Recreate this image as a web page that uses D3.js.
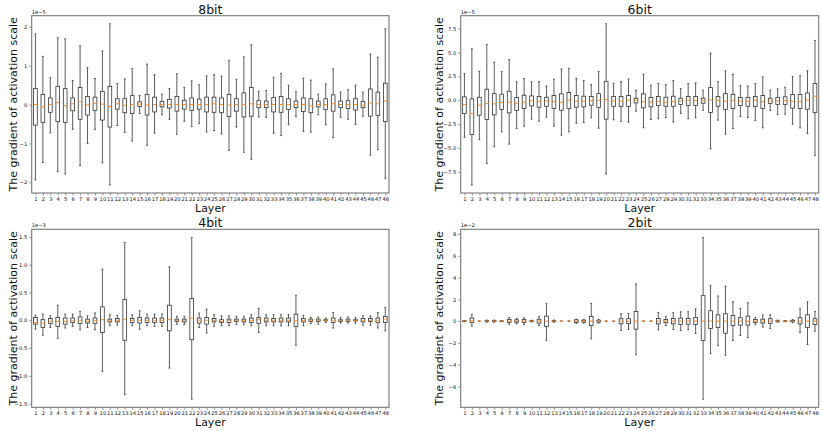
<!DOCTYPE html>
<html>
<head>
<meta charset="utf-8">
<script src="https://cdn.jsdelivr.net/npm/d3@7"></script>
<style>
  body { margin: 0; background: #fff; }
  svg text { font-family: "DejaVu Sans", sans-serif; fill: #111; }
</style>
</head>
<body>
<svg id="chart"></svg>
<script>
const layers = d3.range(1, 49);

// 8bit (x 1e-5)
const hi8 = [1.82,1.24,0.69,1.72,1.69,0.62,1.51,0.95,0.67,1.38,2.08,0.54,0.66,0.93,0.23,1.04,0.77,0.27,0.41,0.79,0.44,0.61,0.51,0.74,0.77,0.73,1.14,0.65,1.23,1.54,0.34,0.36,0.70,0.80,0.50,0.33,0.68,0.63,0.27,0.53,0.92,0.32,0.38,0.50,0.32,1.30,1.22,1.95];
const q3_8 = [0.41,0.26,0.17,0.47,0.41,0.17,0.44,0.21,0.19,0.34,0.47,0.15,0.15,0.23,0.07,0.26,0.19,0.08,0.13,0.21,0.11,0.17,0.14,0.19,0.19,0.17,0.26,0.15,0.30,0.44,0.10,0.09,0.18,0.21,0.15,0.09,0.17,0.15,0.09,0.15,0.25,0.09,0.10,0.15,0.08,0.40,0.32,0.55];
const med8 = [0,-0.06,0,0.05,-0.03,0.02,0.07,-0.01,0.03,0.01,-0.05,0.02,-0.02,0,0.01,-0.01,0,0,0,0,0,0,0,0,0.02,0,-0.01,0,0,0.02,0,0,0,0,0,0,0,-0.03,0,0,0.02,0,0,0,-0.02,0.04,0.02,0.09];
const q1_8 = [-0.53,-0.46,-0.20,-0.44,-0.46,-0.16,-0.38,-0.27,-0.15,-0.40,-0.58,-0.12,-0.21,-0.23,-0.05,-0.27,-0.19,-0.06,-0.09,-0.17,-0.12,-0.15,-0.12,-0.19,-0.20,-0.21,-0.31,-0.17,-0.32,-0.30,-0.08,-0.08,-0.19,-0.20,-0.13,-0.08,-0.18,-0.21,-0.06,-0.13,-0.17,-0.08,-0.10,-0.14,-0.08,-0.30,-0.28,-0.44];
const lo8 = [-1.94,-1.49,-0.73,-1.73,-1.79,-0.64,-1.57,-1.00,-0.64,-1.50,-2.07,-0.54,-0.72,-0.94,-0.23,-1.05,-0.74,-0.26,-0.38,-0.77,-0.43,-0.57,-0.49,-0.71,-0.67,-0.76,-1.18,-0.58,-1.23,-1.41,-0.32,-0.33,-0.74,-0.80,-0.52,-0.31,-0.69,-0.71,-0.26,-0.52,-0.85,-0.33,-0.38,-0.51,-0.30,-1.30,-1.16,-1.90];
const ticks8 = [-2, -1, 0, 1, 2];

// 6bit (x 1e-5)
const hi6 = [2.78,5.38,3.02,5.83,3.99,2.99,4.24,1.94,2.26,1.94,1.94,1.49,2.19,3.26,3.33,2.29,2.05,1.63,2.99,7.99,1.77,1.94,2.22,1.04,2.71,1.56,1.74,1.63,2.05,1.22,1.74,1.81,1.04,4.93,1.94,3.09,2.71,1.56,1.49,1.74,2.43,1.04,1.18,1.35,2.47,2.57,3.09,6.25];
const q3_6 = [0.35,0.14,0.31,1.15,0.69,0.63,0.94,0.28,0.52,0.45,0.38,0.31,0.49,0.66,0.80,0.49,0.42,0.38,0.69,1.98,0.38,0.38,0.49,0.21,0.66,0.28,0.38,0.31,0.42,0.21,0.38,0.38,0.21,1.32,0.38,0.69,0.59,0.28,0.28,0.38,0.49,0.21,0.28,0.35,0.59,0.59,0.76,1.74];
const med6 = [-0.45,-1.39,-0.52,-0.35,-0.38,-0.24,-0.21,-0.31,-0.21,-0.07,-0.14,-0.07,-0.14,-0.21,0,-0.10,-0.10,-0.03,0,0.07,-0.07,-0.10,0,0,-0.14,-0.21,-0.14,-0.21,-0.14,-0.07,0,-0.03,-0.07,0.03,-0.03,-0.10,-0.03,-0.10,-0.10,-0.03,-0.14,-0.07,-0.07,-0.03,-0.10,-0.14,0,0.42];
const q1_6 = [-1.39,-3.58,-1.56,-2.01,-1.53,-0.97,-1.32,-1.08,-0.87,-0.59,-0.73,-0.63,-0.87,-1.04,-0.87,-0.73,-0.69,-0.52,-0.76,-1.98,-0.63,-0.66,-0.66,-0.28,-0.80,-0.69,-0.56,-0.63,-0.63,-0.45,-0.56,-0.56,-0.31,-1.28,-0.63,-0.97,-0.87,-0.56,-0.63,-0.66,-0.87,-0.35,-0.45,-0.45,-0.83,-0.87,-0.94,-1.28];
const lo6 = [-3.89,-8.85,-4.10,-6.60,-4.86,-3.30,-4.58,-2.95,-2.71,-1.98,-2.19,-1.77,-2.71,-3.65,-3.30,-2.40,-2.33,-1.84,-2.92,-7.71,-2.05,-2.22,-2.29,-1.15,-2.88,-2.01,-1.94,-1.81,-2.29,-1.39,-1.94,-1.84,-1.04,-5.07,-2.08,-3.54,-2.95,-1.70,-1.81,-2.12,-2.88,-1.08,-1.49,-1.46,-2.50,-2.88,-3.47,-5.76];
const ticks6 = [-7.5, -5, -2.5, 0, 2.5, 5, 7.5];

// 4bit (x 1e-3)
const hi4 = [0.09,0.11,0.08,0.27,0.11,0.11,0.16,0.08,0.13,0.92,0.10,0.09,1.40,0.10,0.17,0.11,0.11,0.11,0.96,0.07,0.07,1.49,0.13,0.20,0.10,0.08,0.08,0.07,0.07,0.10,0.21,0.10,0.10,0.10,0.10,0.45,0.09,0.05,0.06,0.04,0.14,0.05,0.06,0.05,0.08,0.08,0.14,0.23];
const q3_4 = [0.05,0.01,0.03,0.05,0.04,0.04,0.06,0.02,0.04,0.24,0.02,0.03,0.37,0.03,0.05,0.04,0.04,0.04,0.27,0.02,0.02,0.39,0.04,0.05,0.03,0.01,0.02,0.02,0.02,0.04,0.05,0.04,0.03,0.04,0.04,0.11,0.03,0.02,0.02,0.01,0.04,0.01,0.02,0.01,0.03,0.03,0.04,0.07];
const med4 = [-0.04,-0.05,-0.02,-0.02,-0.02,-0.01,0,-0.02,-0.01,0.01,-0.01,0,0.02,0,0,0,0,0,0.01,0,0,0.04,0,0,0,-0.02,0,0,0,0,0.01,0,0,0,0,-0.01,0,0,0,0,0,0,0,0,0,0,0,0.02];
const q1_4 = [-0.07,-0.13,-0.06,-0.11,-0.07,-0.04,-0.06,-0.05,-0.06,-0.22,-0.03,-0.03,-0.36,-0.04,-0.05,-0.04,-0.04,-0.04,-0.19,-0.02,-0.03,-0.35,-0.05,-0.07,-0.03,-0.04,-0.04,-0.02,-0.03,-0.04,-0.06,-0.03,-0.03,-0.03,-0.03,-0.11,-0.03,-0.02,-0.02,-0.01,-0.04,-0.02,-0.02,-0.01,-0.03,-0.02,-0.04,-0.04];
const lo4 = [-0.16,-0.27,-0.13,-0.33,-0.14,-0.11,-0.17,-0.13,-0.17,-0.92,-0.10,-0.09,-1.34,-0.10,-0.16,-0.10,-0.11,-0.11,-0.86,-0.07,-0.08,-1.42,-0.13,-0.23,-0.11,-0.10,-0.10,-0.08,-0.08,-0.10,-0.22,-0.10,-0.10,-0.10,-0.10,-0.45,-0.10,-0.06,-0.07,-0.04,-0.14,-0.05,-0.05,-0.05,-0.09,-0.09,-0.14,-0.19];
const ticks4 = [-1.5, -1, -0.5, 0, 0.5, 1, 1.5];

// 2bit (x 1e-2)
const hi2 = [0.06,0.62,0,0.10,0.10,0.05,0.34,0.25,0.31,0.08,0.43,1.63,0.10,0,0,0.18,0.15,1.63,0.15,0,0,0.68,0.71,3.42,0,0,0.80,0.43,0.77,0.86,0.86,1.14,7.69,3.26,2.31,3.20,1.78,1.17,1.69,0.34,0.58,0.58,0.10,0.05,0.15,1.17,1.78,0.89];
const q3_2 = [0.02,0.28,0,0.04,0.04,0.02,0.15,0.12,0.15,0.03,0.18,0.46,0.04,0,0,0.12,0.09,0.43,0.09,0,0,0.22,0.22,0.89,0,0,0.25,0.15,0.25,0.28,0.25,0.34,2.34,0.95,0.58,0.68,0.52,0.31,0.46,0.15,0.18,0.22,0.04,0.02,0.06,0.31,0.58,0.22];
const med2 = [0,0.06,0,0,0,0,0,0,0,0,0,0,0,0,0,0,0,0,0,0,0,0,0,0,0,0,0,0,0,0,0,0,0,0,0,0,0,0,0,0,0,0,0,0,0,0,0,0];
const q1_2 = [-0.02,-0.12,0,-0.04,-0.04,-0.02,-0.12,-0.10,-0.12,-0.03,-0.18,-0.49,-0.04,0,0,-0.12,-0.09,-0.40,-0.09,0,0,-0.25,-0.22,-0.74,0,0,-0.25,-0.15,-0.25,-0.31,-0.28,-0.31,-1.78,-0.68,-0.58,-1.11,-0.40,-0.37,-0.37,-0.12,-0.18,-0.22,-0.04,-0.02,-0.06,-0.25,-0.58,-0.31];
const lo2 = [-0.06,-0.46,0,-0.10,-0.10,-0.05,-0.30,-0.25,-0.31,-0.08,-0.40,-1.78,-0.10,0,0,-0.20,-0.18,-1.63,-0.18,0,0,-0.86,-0.77,-3.08,0,0,-0.80,-0.40,-0.77,-0.86,-0.80,-1.14,-7.17,-2.98,-2.25,-3.14,-1.78,-1.32,-1.51,-0.34,-0.55,-0.68,-0.10,-0.05,-0.15,-1.05,-2.15,-0.92];
const ticks2 = [-6, -4, -2, 0, 2, 4, 6, 8];

const width = 822;
const height = 431;

const svg = d3.select('#chart')
  .attr('width', width)
  .attr('height', height);

const panels = [
  { title: '8bit', exp: '1e\u22125', fmt: d3.format('d'), ticks: ticks8, hi: hi8, q3: q3_8, med: med8, q1: q1_8, lo: lo8, x0: 31.7, x1: 389, y0: 15.7, y1: 193, lx: 13.5 },
  { title: '6bit', exp: '1e\u22125', fmt: d3.format('.1f'), ticks: ticks6, hi: hi6, q3: q3_6, med: med6, q1: q1_6, lo: lo6, x0: 460.7, x1: 818.7, y0: 15.7, y1: 193, lx: 439 },
  { title: '4bit', exp: '1e\u22123', fmt: d3.format('.1f'), ticks: ticks4, hi: hi4, q3: q3_4, med: med4, q1: q1_4, lo: lo4, x0: 31.7, x1: 389, y0: 229.3, y1: 407.3, lx: 13.5 },
  { title: '2bit', exp: '1e\u22122', fmt: d3.format('d'), ticks: ticks2, hi: hi2, q3: q3_2, med: med2, q1: q1_2, lo: lo2, x0: 460.7, x1: 818.7, y0: 229.3, y1: 407.3, lx: 439 }
];

panels.forEach((p) => {
  const g = svg.append('g');

  const rows = layers.map((l, i) => ({ layer: l, lo: p.lo[i], q1: p.q1[i], med: p.med[i], q3: p.q3[i], hi: p.hi[i] }));

  // matplotlib style 5% margin on the data range
  const mn = d3.min(p.lo);
  const mx = d3.max(p.hi);
  const pad = (mx - mn) * 0.05;

  const x = d3.scaleLinear().domain([0.5, 48.5]).range([p.x0, p.x1]);
  const y = d3.scaleLinear().domain([mn - pad, mx + pad]).range([p.y1, p.y0]);
  const bw = x(1.25) - x(1);   // half box width
  const cw = x(1.125) - x(1);  // half cap width

  // whiskers
  g.selectAll('.whisk')
    .data(rows)
    .enter()
    .append('line')
    .attr('x1', (d) => x(d.layer))
    .attr('x2', (d) => x(d.layer))
    .attr('y1', (d) => y(d.lo))
    .attr('y2', (d) => y(d.hi))
    .attr('stroke', '#333')
    .attr('stroke-width', 0.8);

  // caps
  ['lo', 'hi'].forEach((k) => {
    g.selectAll('.cap-' + k)
      .data(rows)
      .enter()
      .append('line')
      .attr('x1', (d) => x(d.layer) - cw)
      .attr('x2', (d) => x(d.layer) + cw)
      .attr('y1', (d) => y(d[k]))
      .attr('y2', (d) => y(d[k]))
      .attr('stroke', '#333')
      .attr('stroke-width', 0.8);
  });

  // boxes
  g.selectAll('.box')
    .data(rows)
    .enter()
    .append('rect')
    .attr('x', (d) => x(d.layer) - bw)
    .attr('width', bw * 2)
    .attr('y', (d) => y(d.q3))
    .attr('height', (d) => y(d.q1) - y(d.q3))
    .attr('fill', '#fff')
    .attr('stroke', '#333')
    .attr('stroke-width', 0.8);

  // medians
  g.selectAll('.med')
    .data(rows)
    .enter()
    .append('line')
    .attr('x1', (d) => x(d.layer) - bw)
    .attr('x2', (d) => x(d.layer) + bw)
    .attr('y1', (d) => y(d.med))
    .attr('y2', (d) => y(d.med))
    .attr('stroke', '#ff7f0e')
    .attr('stroke-width', 0.9);

  // axes
  const yAxis = g.append('g')
    .attr('transform', `translate(${p.x0},0)`)
    .call(d3.axisLeft(y).tickValues(p.ticks).tickFormat(p.fmt).tickSize(2.5).tickPadding(2));
  const xAxis = g.append('g')
    .attr('transform', `translate(0,${p.y1})`)
    .call(d3.axisBottom(x).tickValues(layers).tickFormat(d3.format('d')).tickSize(2.5).tickPadding(1.5));

  [yAxis, xAxis].forEach((a) => {
    a.select('.domain').remove();
    a.selectAll('line').attr('stroke', '#666').attr('stroke-width', 0.7);
    a.selectAll('text').attr('font-size', 5.2).attr('fill', '#111');
  });

  // frame
  g.append('rect')
    .attr('x', p.x0)
    .attr('y', p.y0)
    .attr('width', p.x1 - p.x0)
    .attr('height', p.y1 - p.y0)
    .attr('fill', 'none')
    .attr('stroke', '#777')
    .attr('stroke-width', 1.1);

  // texts
  g.append('text')
    .text(p.title)
    .attr('x', (p.x0 + p.x1) / 2)
    .attr('y', p.y0 - 2.2)
    .attr('text-anchor', 'middle')
    .attr('font-size', 12.5);

  g.append('text')
    .text(p.exp)
    .attr('x', p.x0)
    .attr('y', p.y0 - 2)
    .attr('font-size', 5.2);

  g.append('text')
    .text('Layer')
    .attr('x', (p.x0 + p.x1) / 2)
    .attr('y', p.y1 + 18.5)
    .attr('text-anchor', 'middle')
    .attr('font-size', 11);

  g.append('text')
    .text('The gradient of activation scale')
    .attr('transform', `translate(${p.lx},${(p.y0 + p.y1) / 2}) rotate(-90)`)
    .attr('text-anchor', 'middle')
    .attr('dy', '0.35em')
    .attr('font-size', 11);
});
</script>
</body>
</html>
